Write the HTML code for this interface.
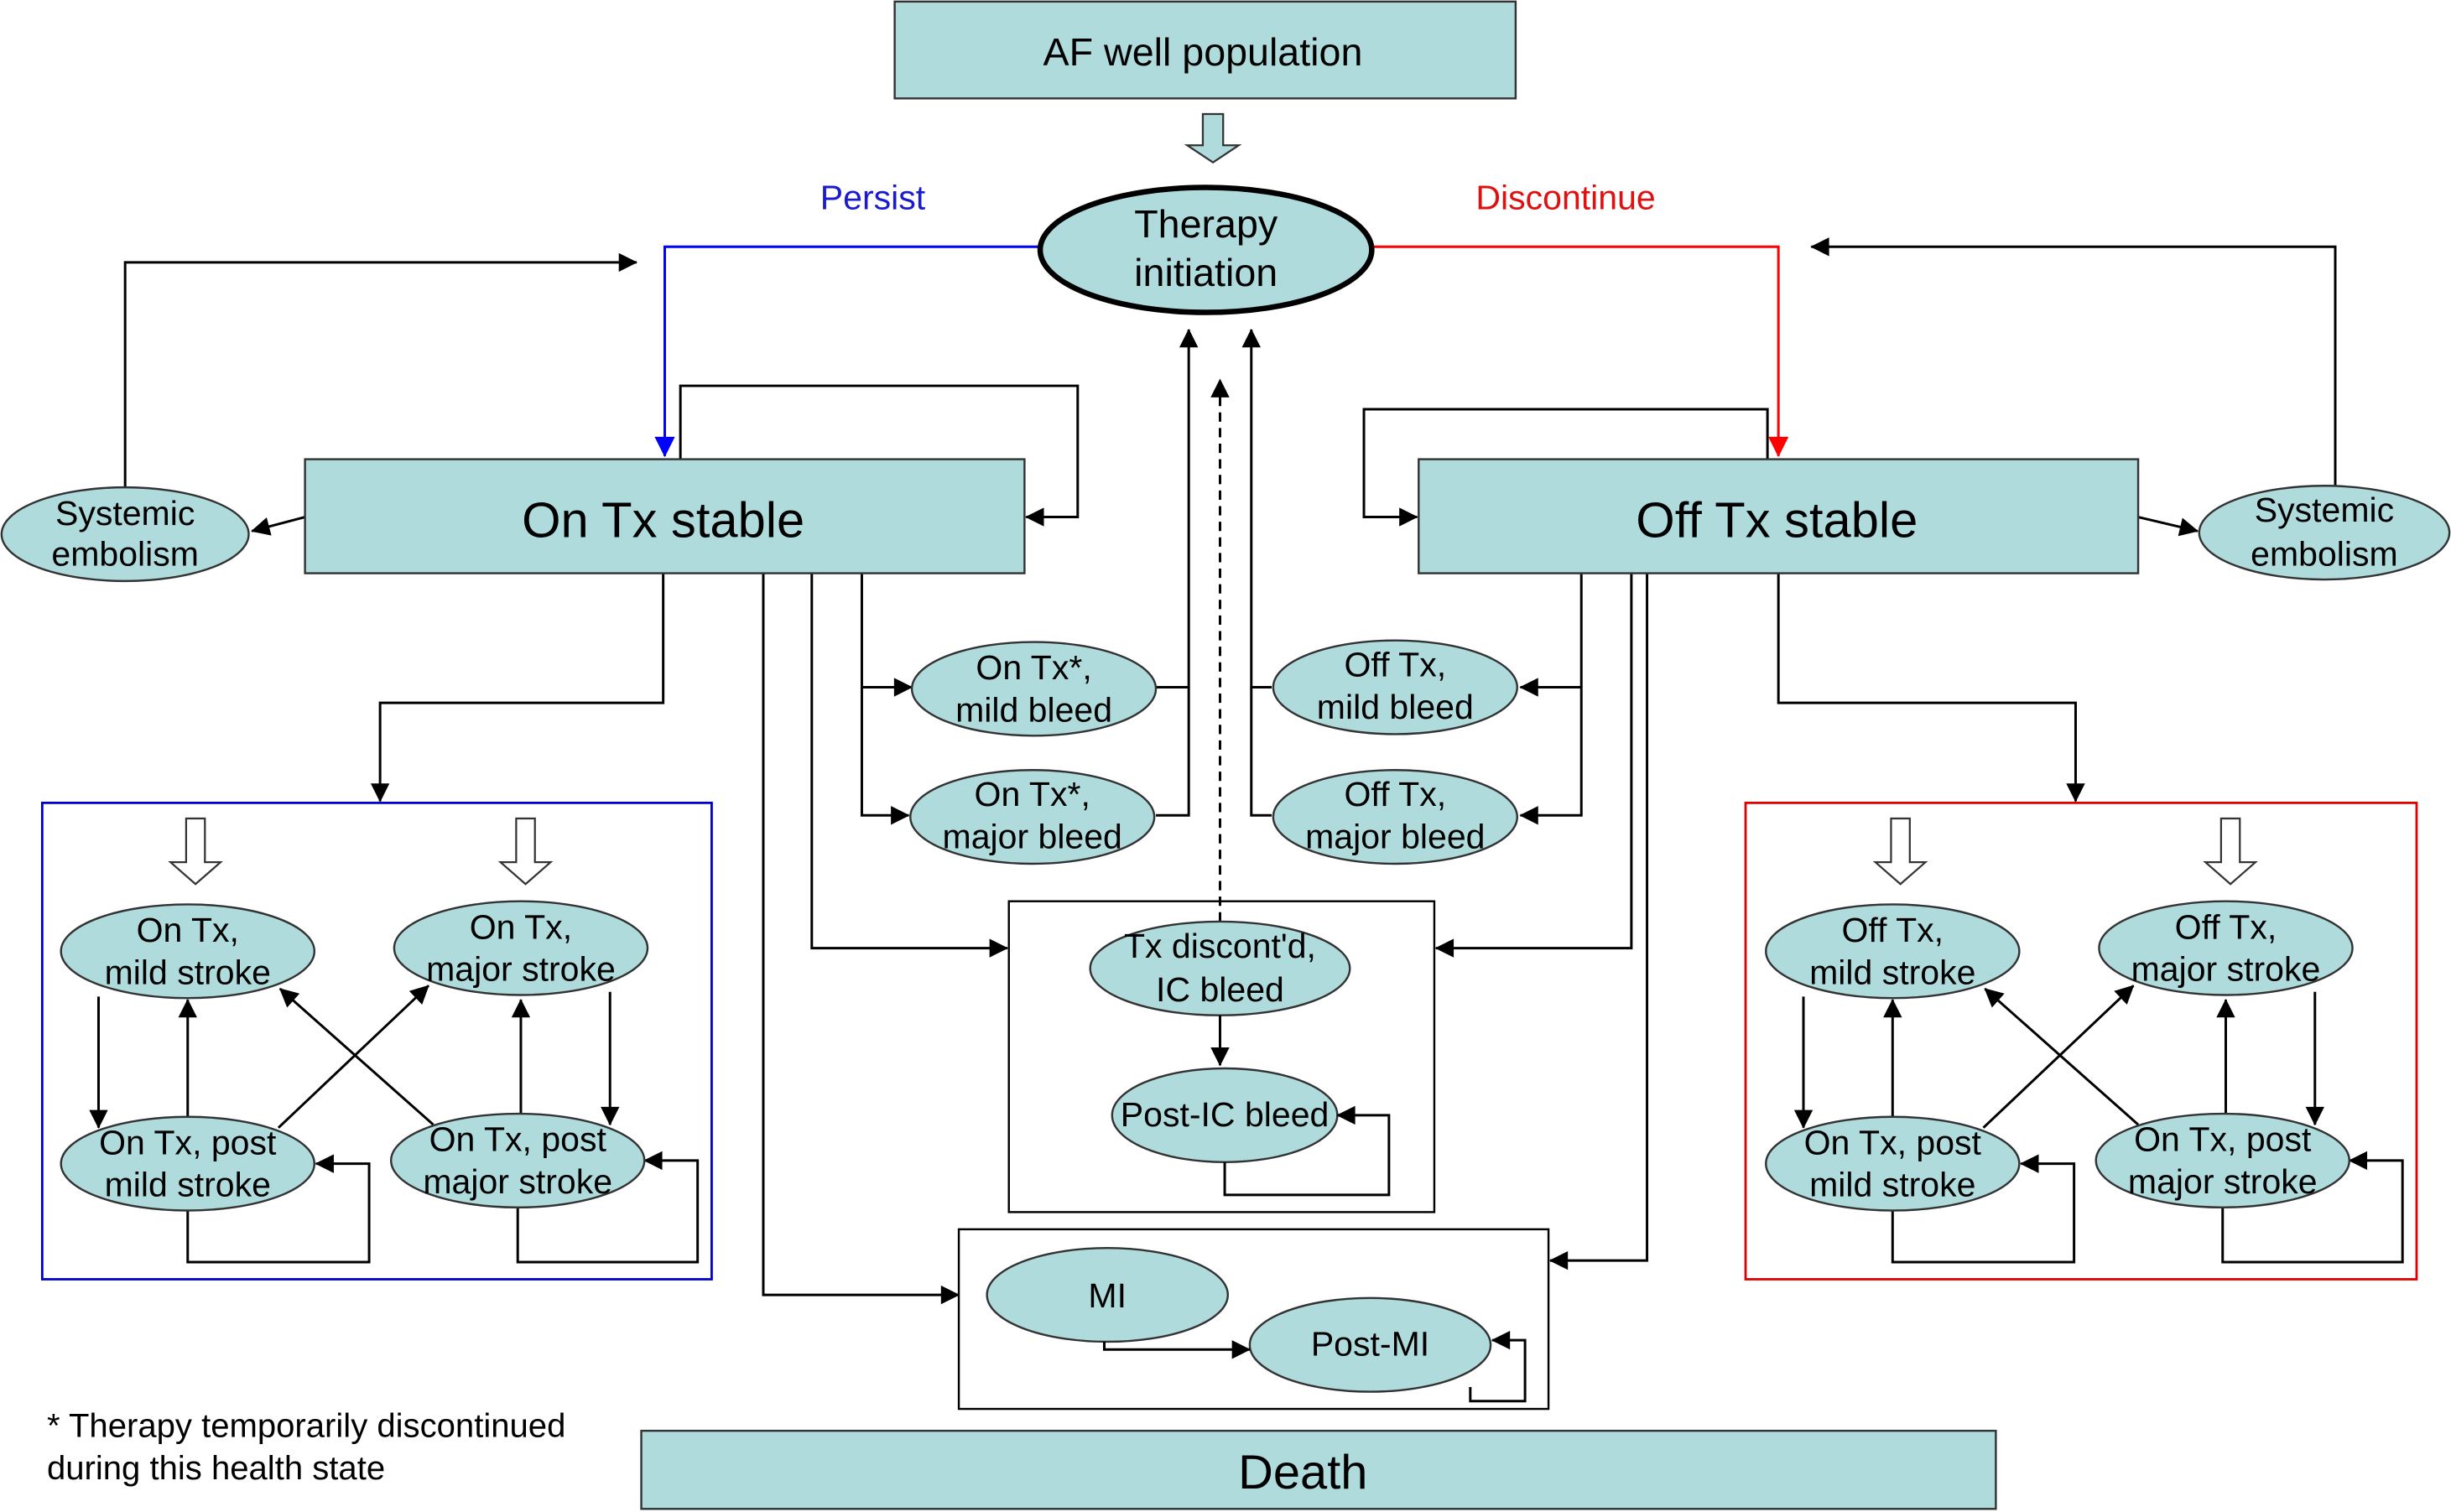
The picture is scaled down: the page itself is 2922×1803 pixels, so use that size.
<!DOCTYPE html>
<html><head><meta charset="utf-8"><style>html,body{margin:0;padding:0;background:#fff}svg{display:block}</style></head>
<body>
<svg width="2922" height="1803" viewBox="0 0 1567 968" preserveAspectRatio="none" xmlns="http://www.w3.org/2000/svg" font-family="Liberation Sans, sans-serif">
<defs>
<marker id="a" viewBox="0 0 10 10" refX="9.5" refY="5" markerWidth="15" markerHeight="12" orient="auto" markerUnits="userSpaceOnUse"><path d="M0,0 L10,5 L0,10z" fill="#000"/></marker>
<marker id="ab" viewBox="0 0 10 10" refX="9.5" refY="5" markerWidth="16" markerHeight="13" markerUnits="userSpaceOnUse" orient="auto"><path d="M0,0 L10,5 L0,10z" fill="#00f"/></marker>
<marker id="ar" viewBox="0 0 10 10" refX="9.5" refY="5" markerWidth="16" markerHeight="13" markerUnits="userSpaceOnUse" orient="auto"><path d="M0,0 L10,5 L0,10z" fill="#f00"/></marker>
</defs>
<style>
.b{fill:#b0dbdc;stroke:#333;stroke-width:1.3}
.l{fill:none;stroke:#000;stroke-width:1.6}
.t{font-size:22px;text-anchor:middle;fill:#000}
</style>
<path class="l" d="M435,294 V247 H689 V331 H656" marker-end="url(#a)"/>
<path class="l" d="M1130,294 V262 H872 V331 H906" marker-end="url(#a)"/>
<path class="l" d="M195,331 L161,340" marker-end="url(#a)"/>
<path class="l" d="M80,312 V168 H407" marker-end="url(#a)"/>
<path class="l" d="M1367,331 L1405,340" marker-end="url(#a)"/>
<path class="l" d="M1493,311 V158 H1158" marker-end="url(#a)"/>
<path class="l" d="M424,367 V450 H243 V513" marker-end="url(#a)"/>
<path class="l" d="M1137,367 V450 H1327 V513" marker-end="url(#a)"/>
<path class="l" d="M551,367 V522 H581" marker-end="url(#a)"/>
<path class="l" d="M551,440 H583" marker-end="url(#a)"/>
<path class="l" d="M739,440 H760 V211" marker-end="url(#a)"/>
<path class="l" d="M739,522 H760 V440"/>
<path class="l" d="M1011,367 V522 H972" marker-end="url(#a)"/>
<path class="l" d="M1011,440 H972" marker-end="url(#a)"/>
<path class="l" d="M813,440 H800 V211" marker-end="url(#a)"/>
<path class="l" d="M813,522 H800 V440"/>
<path class="l" d="M780,590 V243" stroke-dasharray="6,4" marker-end="url(#a)"/>
<path class="l" d="M519,367 V607 H644" marker-end="url(#a)"/>
<path class="l" d="M1043,367 V607 H918" marker-end="url(#a)"/>
<path class="l" d="M488,367 V829 H613" marker-end="url(#a)"/>
<path class="l" d="M1053,367 V807 H991" marker-end="url(#a)"/>
<path d="M665,158 H425 V292" fill="none" stroke="#00f" stroke-width="1.6" marker-end="url(#ab)"/>
<path d="M878,158 H1137 V292" fill="none" stroke="#f00" stroke-width="1.6" marker-end="url(#ar)"/>
<text x="558" y="134" font-size="22" fill="#1a1ad0" text-anchor="middle">Persist</text>
<text x="1001" y="134" font-size="22" fill="#e01010" text-anchor="middle">Discontinue</text>

<rect class="b" x="572" y="1" width="397" height="62"/>
<text x="769" y="42" font-size="25" text-anchor="middle">AF well population</text>
<path d="M769,73 H782 V93 H792 L775.5,104 L759,93 H769Z" fill="#b0dbdc" stroke="#333" stroke-width="1.2"/>
<ellipse cx="771" cy="160" rx="106" ry="40" fill="#b0dbdc" stroke="#000" stroke-width="3.5"/>
<text x="771" y="152" font-size="25" text-anchor="middle">Therapy</text>
<text x="771" y="183" font-size="25" text-anchor="middle">initiation</text>

<rect class="b" x="195" y="294" width="460" height="73"/>
<text x="424" y="344" font-size="32" text-anchor="middle">On Tx stable</text>
<rect class="b" x="907" y="294" width="460" height="73"/>
<text x="1136" y="344" font-size="32" text-anchor="middle">Off Tx stable</text>

<ellipse class="b" cx="80" cy="342" rx="79" ry="30"/>
<text class="t" x="80" y="336">Systemic</text><text class="t" x="80" y="362">embolism</text>
<ellipse class="b" cx="1486" cy="341" rx="80" ry="30"/>
<text class="t" x="1486" y="334">Systemic</text><text class="t" x="1486" y="362">embolism</text>

<ellipse class="b" cx="661" cy="441" rx="78" ry="30"/>
<text class="t" x="661" y="435">On Tx*,</text><text class="t" x="661" y="462">mild bleed</text>
<ellipse class="b" cx="660" cy="523" rx="78" ry="30"/>
<text class="t" x="660" y="516">On Tx*,</text><text class="t" x="660" y="543">major bleed</text>
<ellipse class="b" cx="892" cy="440" rx="78" ry="30"/>
<text class="t" x="892" y="433">Off Tx,</text><text class="t" x="892" y="460">mild bleed</text>
<ellipse class="b" cx="892" cy="523" rx="78" ry="30"/>
<text class="t" x="892" y="516">Off Tx,</text><text class="t" x="892" y="543">major bleed</text>

<rect x="645" y="577" width="272" height="199" fill="none" stroke="#000" stroke-width="1.3"/>
<ellipse class="b" cx="780" cy="620" rx="83" ry="30"/>
<text class="t" x="780" y="613">Tx discont'd,</text><text class="t" x="780" y="641">IC bleed</text>
<path class="l" d="M780,650 V682" marker-end="url(#a)"/>
<ellipse class="b" cx="783" cy="714" rx="72" ry="30"/>
<text class="t" x="783" y="721">Post-IC bleed</text>
<path class="l" d="M783,744 V765 H888 V714 H855" marker-end="url(#a)"/>

<rect x="613" y="787" width="377" height="115" fill="none" stroke="#000" stroke-width="1.3"/>
<ellipse class="b" cx="708" cy="829" rx="77" ry="30"/>
<text class="t" x="708" y="837">MI</text>
<ellipse class="b" cx="876" cy="861" rx="77" ry="30"/>
<text class="t" x="876" y="868">Post-MI</text>
<path class="l" d="M706,859 V864 H799" marker-end="url(#a)"/>
<path class="l" d="M940,888 V897 H975 V858 H954" marker-end="url(#a)"/>

<rect class="b" x="410" y="916" width="866" height="50"/>
<text x="833" y="953" font-size="31" text-anchor="middle">Death</text>
<text x="30" y="920" font-size="21.5">* Therapy temporarily discontinued</text>
<text x="30" y="947" font-size="21.5">during this health state</text>

<g>
<rect x="27" y="514" width="428" height="305" fill="none" stroke="#00c" stroke-width="1.5"/>
<path d="M119,524 H131 V552 H141 L125,566 L109,552 H119Z" fill="#fff" stroke="#333" stroke-width="1.2"/>
<path d="M330,524 H342 V552 H352 L336,566 L320,552 H330Z" fill="#fff" stroke="#333" stroke-width="1.2"/>
<path class="l" d="M63,638 V722" marker-end="url(#a)"/>
<path class="l" d="M120,715 V640" marker-end="url(#a)"/>
<path class="l" d="M390,635 V720" marker-end="url(#a)"/>
<path class="l" d="M333,713 V640" marker-end="url(#a)"/>
<path class="l" d="M178,722 L274,631" marker-end="url(#a)"/>
<path class="l" d="M277,720 L179,633" marker-end="url(#a)"/>
<path class="l" d="M120,775 V808 H236 V745 H202" marker-end="url(#a)"/>
<path class="l" d="M331,773 V808 H446 V743 H412" marker-end="url(#a)"/>
<ellipse class="b" cx="120" cy="609" rx="81" ry="30"/>
<ellipse class="b" cx="333" cy="607" rx="81" ry="30"/>
<ellipse class="b" cx="120" cy="745" rx="81" ry="30"/>
<ellipse class="b" cx="331" cy="743" rx="81" ry="30"/>
</g>
<text class="t" x="120" y="603">On Tx,</text><text class="t" x="120" y="630">mild stroke</text>
<text class="t" x="333" y="601">On Tx,</text><text class="t" x="333" y="628">major stroke</text>
<text class="t" x="120" y="739">On Tx, post</text><text class="t" x="120" y="766">mild stroke</text>
<text class="t" x="331" y="737">On Tx, post</text><text class="t" x="331" y="764">major stroke</text>

<g transform="translate(1090,0)">
<rect x="26" y="514" width="429" height="305" fill="none" stroke="#d00" stroke-width="1.5"/>
<path d="M119,524 H131 V552 H141 L125,566 L109,552 H119Z" fill="#fff" stroke="#333" stroke-width="1.2"/>
<path d="M330,524 H342 V552 H352 L336,566 L320,552 H330Z" fill="#fff" stroke="#333" stroke-width="1.2"/>
<path class="l" d="M63,638 V722" marker-end="url(#a)"/>
<path class="l" d="M120,715 V640" marker-end="url(#a)"/>
<path class="l" d="M390,635 V720" marker-end="url(#a)"/>
<path class="l" d="M333,713 V640" marker-end="url(#a)"/>
<path class="l" d="M178,722 L274,631" marker-end="url(#a)"/>
<path class="l" d="M277,720 L179,633" marker-end="url(#a)"/>
<path class="l" d="M120,775 V808 H236 V745 H202" marker-end="url(#a)"/>
<path class="l" d="M331,773 V808 H446 V743 H412" marker-end="url(#a)"/>
<ellipse class="b" cx="120" cy="609" rx="81" ry="30"/>
<ellipse class="b" cx="333" cy="607" rx="81" ry="30"/>
<ellipse class="b" cx="120" cy="745" rx="81" ry="30"/>
<ellipse class="b" cx="331" cy="743" rx="81" ry="30"/>
<text class="t" x="120" y="603">Off Tx,</text><text class="t" x="120" y="630">mild stroke</text>
<text class="t" x="333" y="601">Off Tx,</text><text class="t" x="333" y="628">major stroke</text>
<text class="t" x="120" y="739">On Tx, post</text><text class="t" x="120" y="766">mild stroke</text>
<text class="t" x="331" y="737">On Tx, post</text><text class="t" x="331" y="764">major stroke</text>
</g>
</svg>
</body></html>
